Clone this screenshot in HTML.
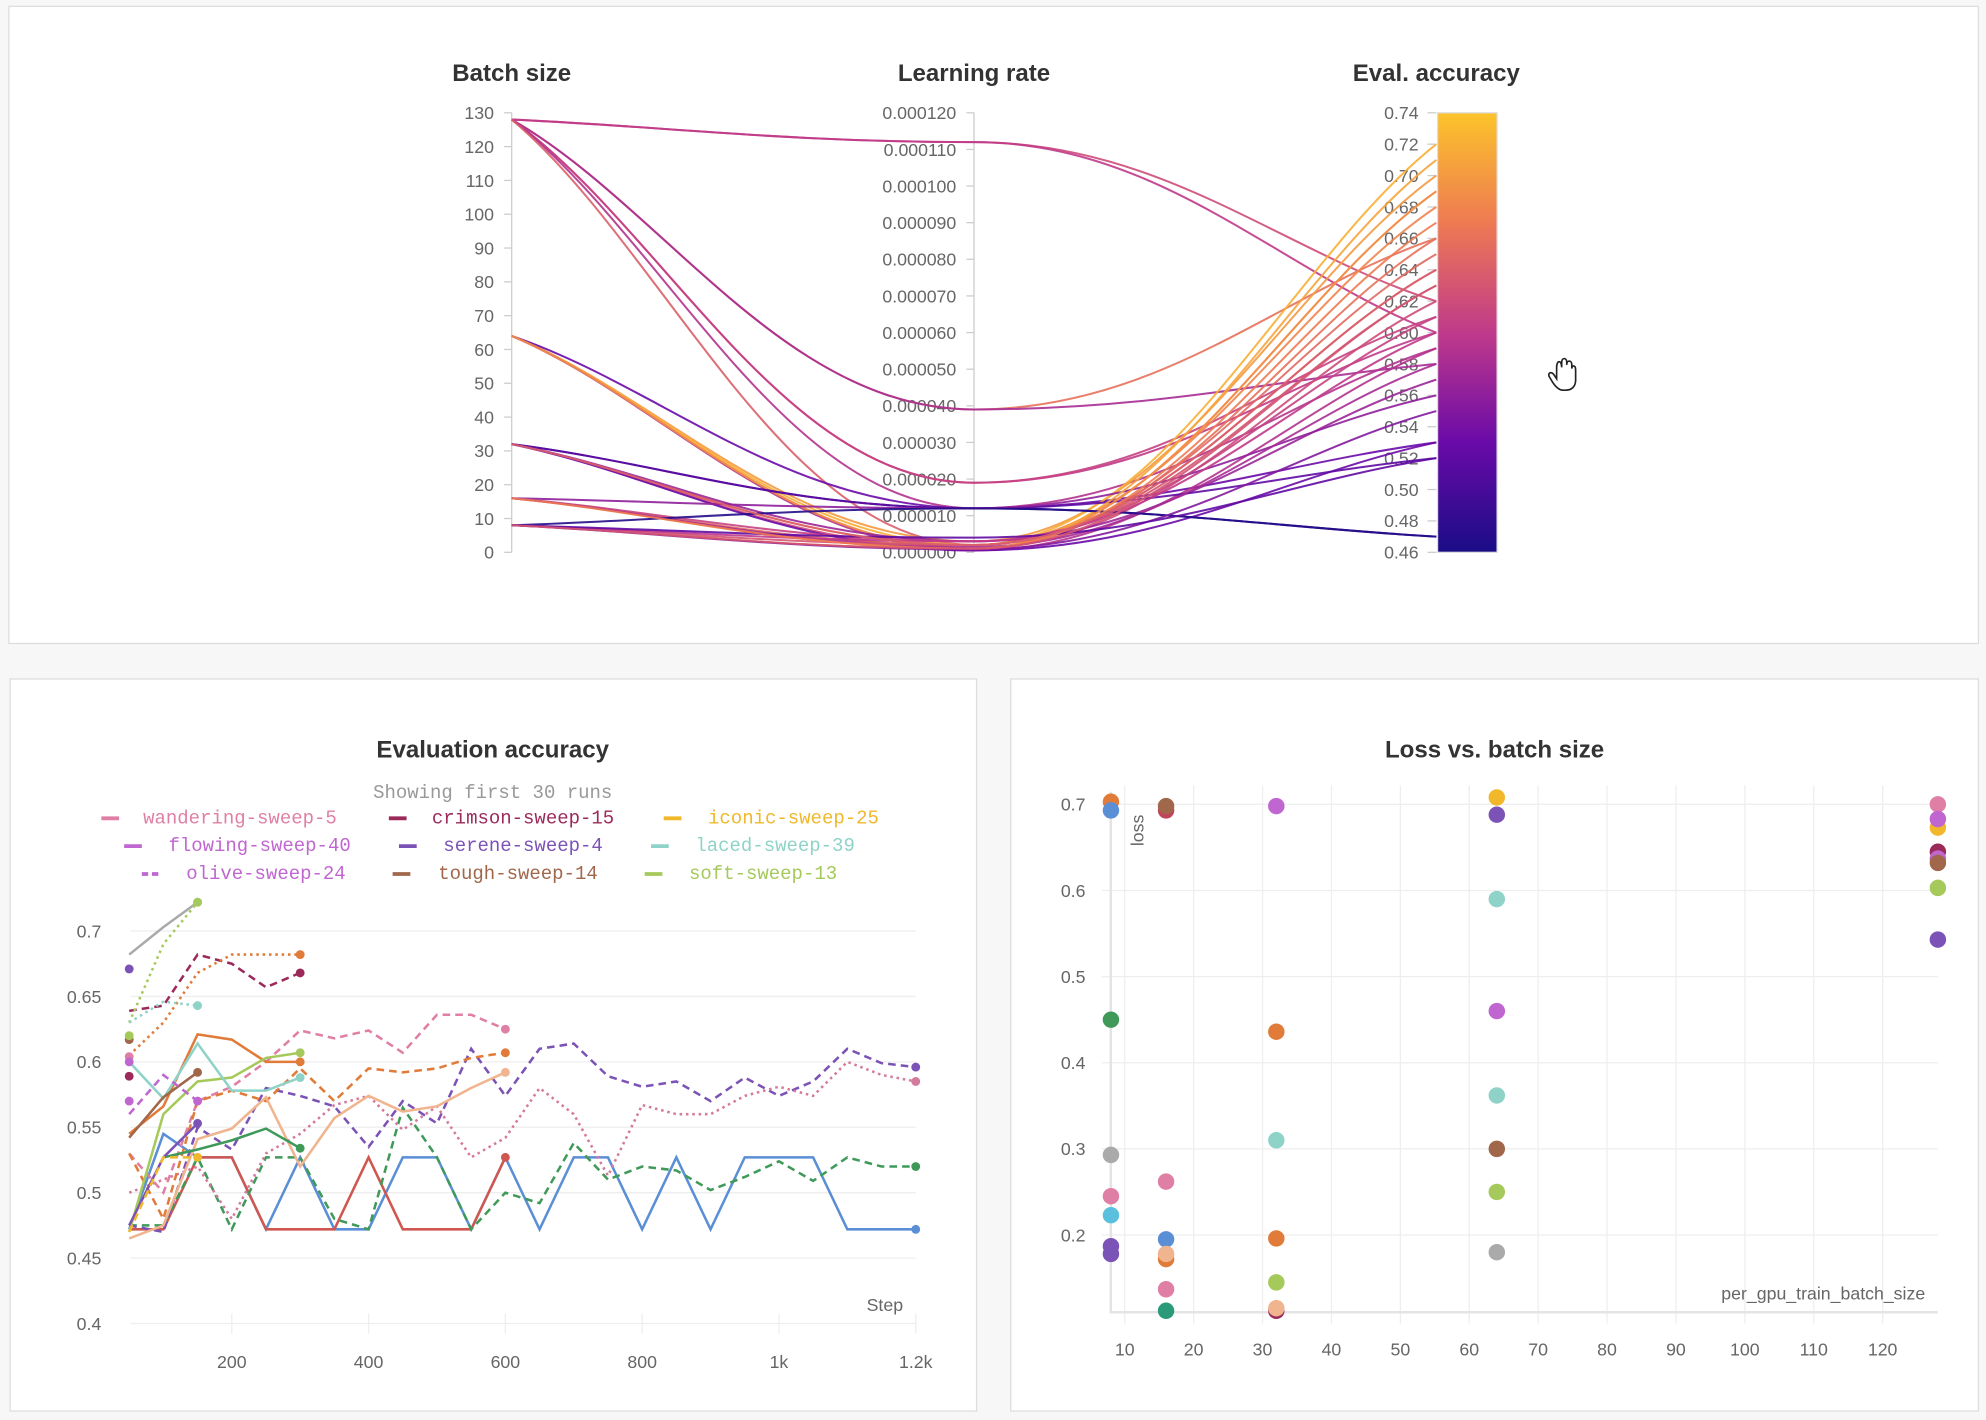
<!DOCTYPE html>
<html><head><meta charset="utf-8"><style>
html,body{margin:0;padding:0;background:#f7f7f7;width:1986px;height:1420px;overflow:hidden}
svg{display:block}
text{font-family:"Liberation Sans",sans-serif}
.t{font-size:19px;font-weight:bold;fill:#333}
.tk{font-size:14px;fill:#666}
.lg{font-family:"Liberation Mono",monospace;font-size:15px}
</style></head><body>
<svg id="s" width="1986" height="1420" viewBox="0 0 1568 1121" xmlns="http://www.w3.org/2000/svg">
<defs><linearGradient id="pl" x1="0" y1="1" x2="0" y2="0">
<stop offset="0" stop-color="#1a0c86"/><stop offset="0.25" stop-color="#6a0aa8"/><stop offset="0.5" stop-color="#c03a8a"/><stop offset="0.75" stop-color="#ee7a52"/><stop offset="1" stop-color="#fcc42a"/></linearGradient></defs>
<rect x="7" y="5" width="1555" height="503" fill="#fff" stroke="#ddd"/>
<rect x="8" y="536" width="763" height="578" fill="#fff" stroke="#ddd"/>
<rect x="798" y="536" width="764" height="578" fill="#fff" stroke="#ddd"/>
<g id="pc"></g>
<text class="t" x="404" y="64" text-anchor="middle">Batch size</text>
<text class="t" x="769" y="64" text-anchor="middle">Learning rate</text>
<text class="t" x="1134" y="64" text-anchor="middle">Eval. accuracy</text>
<rect x="1135" y="89" width="47" height="347" fill="url(#pl)" stroke="#ddd"/>
<text class="t" x="389" y="598" text-anchor="middle">Evaluation accuracy</text>
<text class="lg" x="389" y="630" text-anchor="middle" fill="#999">Showing first 30 runs</text>
<g id="lg"></g>
<g id="ev"></g>
<text class="t" x="1180" y="598" text-anchor="middle">Loss vs. batch size</text>
<g id="sc"></g>
<path d="M1229 290c0-6 4-6 4 0v-4c0-4 4-4 4 0v2c0-4 4-4 4 0v3c0-3 3-3 3 1v8c0 5-3 8-8 8h-2c-3 0-6-3-8-6l-3-5c-1-3 2-4 4-1l2 3z" fill="#fff" stroke="#222" stroke-width="1.3"/>
</svg>
<script>
const NS="http://www.w3.org/2000/svg";
function el(p,t,a,txt){const e=document.createElementNS(NS,t);for(const k in a)e.setAttribute(k,a[k]);if(txt!==undefined)e.textContent=txt;document.getElementById(p).appendChild(e);return e;}
// parallel coords
const yb=v=>436-v/130*347, yl=v=>436-v/0.00012*347, ya=v=>436-(v-0.46)/0.28*347;
for(let i=0;i<=13;i++){const y=yb(i*10);el('pc','line',{x1:398,x2:404,y1:y,y2:y,stroke:'#ccc'});el('pc','text',{x:390,y:y+5,'text-anchor':'end',class:'tk'},i*10);}
for(let i=0;i<=12;i++){const y=yl(i*0.00001);el('pc','line',{x1:763,x2:769,y1:y,y2:y,stroke:'#ccc'});el('pc','text',{x:755,y:y+5,'text-anchor':'end',class:'tk'},(i*0.00001).toFixed(6));}
for(let i=0;i<=14;i++){const v=0.46+i*0.02,y=ya(v);el('pc','line',{x1:1127,x2:1134,y1:y,y2:y,stroke:'#ccc'});el('pc','text',{x:1120,y:y+5,'text-anchor':'end',class:'tk'},v.toFixed(2));}
el('pc','line',{x1:404,x2:404,y1:89,y2:436,stroke:'#ccc'});
el('pc','line',{x1:769,x2:769,y1:89,y2:436,stroke:'#ccc'});
const stops=[[0,[26,12,134]],[0.25,[106,10,168]],[0.5,[192,58,138]],[0.75,[238,122,82]],[1,[252,196,42]]];
function cm(t){t=Math.max(0,Math.min(1,t));for(let i=1;i<stops.length;i++){if(t<=stops[i][0]){const a=stops[i-1],b=stops[i],f=(t-a[0])/(b[0]-a[0]);return 'rgb('+a[1].map((c,j)=>Math.round(c+(b[1][j]-c)*f)).join(',')+')';}}}
const L=[[128,0.000112,0.62],[128,0.000112,0.60],[128,0.000039,0.66],[128,0.000039,0.58],[128,0.000019,0.60],[128,0.000019,0.61],[128,0.000012,0.59],[128,0.000002,0.64],[64,0.000003,0.70],[64,0.000012,0.53],[64,0.000002,0.72],[64,0.000001,0.66],[64,0.0000005,0.59],[64,0.000001,0.69],[32,0.000012,0.47],[32,0.000002,0.68],[32,0.000001,0.62],[32,0.000003,0.57],[32,0.0000005,0.53],[32,0.000012,0.52],[16,0.000012,0.56],[16,0.000001,0.71],[16,0.000002,0.65],[16,0.000003,0.61],[16,0.0000015,0.58],[8,0.000012,0.47],[8,0.000001,0.69],[8,0.000002,0.63],[8,0.000003,0.60],[8,0.0000008,0.55],[8,0.000004,0.52],[16,0.000001,0.67],[32,0.000002,0.64],[8,0.000001,0.63]];
for(const [b,l,a] of L){const x0=404,x1=769,x2=1134,y0=yb(b),y1=yl(l),y2=ya(a);
el('pc','path',{d:`M${x0} ${y0}C${x0+120} ${y0+(y1-y0)*0.3} ${x1-150} ${y1} ${x1} ${y1}C${x1+150} ${y1} ${x2-120} ${y2+(y1-y2)*0.3} ${x2} ${y2}`,fill:'none',stroke:cm((a-0.46)/0.28),'stroke-width':1.6,opacity:0.9});}
// legend
const lgd=[["wandering-sweep-5","#e07fa5",0],["crimson-sweep-15","#9b2a5a",0],["iconic-sweep-25","#f0b82a",0],["flowing-sweep-40","#c066d0",0],["serene-sweep-4","#7b52b5",0],["laced-sweep-39","#8fd3c8",0],["olive-sweep-24","#c066d0",1],["tough-sweep-14","#a0674b",0],["soft-sweep-13","#a5c95a",0]];
const lx=[[80,113],[307,341],[524,559],[98,133],[315,350],[514,549],[112,147],[310,346],[509,544]];
lgd.forEach((g,i)=>{const y=650+Math.floor(i/3)*22,[a,b]=lx[i];el('lg','line',{x1:a,x2:a+14,y1:y-4,y2:y-4,stroke:g[1],'stroke-width':3,'stroke-dasharray':g[2]?'5 3':'none'});el('lg','text',{x:b,y:y,class:'lg',fill:g[1]},g[0]);});
// eval chart
const ex=s=>183+(s-200)*0.54, ey=v=>735+(0.7-v)*1033;
[0.4,0.45,0.5,0.55,0.6,0.65,0.7].forEach(v=>{el('ev','line',{x1:103,x2:723,y1:ey(v),y2:ey(v),stroke:'#eee'});el('ev','text',{x:80,y:ey(v)+5,'text-anchor':'end',class:'tk',fill:'#888'},v);});
[[200,'200'],[400,'400'],[600,'600'],[800,'800'],[1000,'1k'],[1200,'1.2k']].forEach(([s,t])=>{el('ev','line',{x1:ex(s),x2:ex(s),y1:1037,y2:1053,stroke:'#eee'});el('ev','text',{x:ex(s),y:1080,'text-anchor':'middle',class:'tk',fill:'#888'},t);});
el('ev','text',{x:713,y:1035,'text-anchor':'end',class:'tk',fill:'#888'},'Step');
function ser(c,d,pts,start){const a=start||50;const p=pts.map((v,i)=>[ex(a+i*50),ey(v)]).filter((q,i)=>pts[i]!==null);
el('ev','polyline',{points:p.map(q=>q.join(',')).join(' '),fill:'none',stroke:c,'stroke-width':2,'stroke-dasharray':d||'none'});const e=p[p.length-1];el('ev','circle',{cx:e[0],cy:e[1],r:3.5,fill:c});}
ser('#5a8fd6','',[0.472,0.545,0.527,0.527,0.472,0.527,0.472,0.472,0.527,0.527,0.472,0.527,0.472,0.527,0.527,0.472,0.527,0.472,0.527,0.527,0.527,0.472,0.472,0.472]);
ser('#d0574f','',[0.472,0.472,0.527,0.527,0.472,0.472,0.472,0.527,0.472,0.472,0.472,0.527]);
ser('#3f9a5a','6 4',[0.475,0.475,0.527,0.472,0.527,0.527,0.48,0.472,0.565,0.527,0.472,0.5,0.492,0.538,0.51,0.52,0.517,0.502,0.512,0.524,0.509,0.527,0.52,0.52]);
ser('#7b52b5','6 4',[0.475,0.47,0.55,0.533,0.58,0.574,0.566,0.535,0.57,0.553,0.61,0.574,0.61,0.614,0.589,0.581,0.585,0.57,0.588,0.574,0.585,0.61,0.599,0.596]);
ser('#d47a9c','2 3',[0.5,0.51,0.52,0.48,0.53,0.545,0.567,0.574,0.548,0.566,0.527,0.542,0.58,0.56,0.513,0.567,0.56,0.56,0.574,0.581,0.574,0.6,0.59,0.585]);
ser('#e07fa5','6 4',[0.53,0.5,0.57,0.581,0.6,0.624,0.618,0.624,0.607,0.636,0.636,0.625]);
ser('#e07b39','6 4',[0.53,0.48,0.57,0.578,0.57,0.595,0.57,0.595,0.592,0.595,0.603,0.607]);
ser('#f0b48e','',[0.465,0.475,0.541,0.549,0.573,0.52,0.557,0.574,0.562,0.566,0.58,0.592]);
ser('#e07b39','',[0.545,0.566,0.621,0.617,0.6,0.6]);
ser('#a5c95a','',[0.47,0.56,0.585,0.588,0.603,0.607]);
ser('#3f9a5a','',[0.527,0.533,0.54,0.549,0.534],100);
ser('#9b2a5a','6 4',[0.639,0.643,0.682,0.675,0.657,0.668]);
ser('#e07b39','2 3',[0.605,0.63,0.668,0.682,0.682,0.682]);
ser('#aaaaaa','',[0.682,0.703,0.722]);
ser('#a5c95a','2 3',[0.63,0.69,0.722]);
ser('#8fd3c8','2 3',[0.63,0.646,0.643]);
ser('#8fd3c8','',[0.6,0.572,0.614,0.578,0.578,0.588]);
ser('#a0674b','',[0.542,0.573,0.592]);
ser('#7b52b5','',[0.475,0.527,0.553]);
ser('#c066d0','6 4',[0.56,0.59,0.57]);
ser('#f0b82a','6 4',[0.47,0.527,0.527]);
[[0.671,'#7b52b5'],[0.617,'#a0674b'],[0.62,'#a5c95a'],[0.604,'#e07fa5'],[0.6,'#c066d0'],[0.589,'#9b2a5a'],[0.57,'#c066d0']].forEach(([v,c])=>el('ev','circle',{cx:ex(50),cy:ey(v),r:3.5,fill:c}));
// scatter
const sx=v=>888+(v-10)*5.44, sy=v=>635+(0.7-v)*680;
for(let v=10;v<=120;v+=10){el('sc','line',{x1:sx(v),x2:sx(v),y1:620,y2:1045,stroke:'#eee'});el('sc','text',{x:sx(v),y:1070,'text-anchor':'middle',class:'tk',fill:'#888'},v);}
[0.2,0.3,0.4,0.5,0.6,0.7].forEach(v=>{el('sc','line',{x1:870,x2:1530,y1:sy(v),y2:sy(v),stroke:'#eee'});el('sc','text',{x:857,y:sy(v)+5,'text-anchor':'end',class:'tk',fill:'#888'},v);});
el('sc','line',{x1:877,x2:877,y1:625,y2:1037,stroke:'#e4e4e4','stroke-width':2});
el('sc','line',{x1:877,x2:1530,y1:1036,y2:1036,stroke:'#e4e4e4','stroke-width':2});
el('sc','text',{x:1520,y:1026,'text-anchor':'end',class:'tk',fill:'#888'},'per_gpu_train_batch_size');
el('sc','text',{x:0,y:0,class:'tk',fill:'#888',transform:'translate(903,668) rotate(-90)'},'loss');
const P=[[8,0.703,'#e07b39'],[8,0.693,'#5a8fd6'],[8,0.45,'#3f9a5a'],[8,0.293,'#aaa'],[8,0.245,'#e07fa5'],[8,0.223,'#5bc0de'],[8,0.187,'#7b52b5'],[8,0.178,'#7b52b5'],
[16,0.693,'#c0445a'],[16,0.698,'#a0674b'],[16,0.262,'#e07fa5'],[16,0.195,'#5a8fd6'],[16,0.172,'#e07b39'],[16,0.178,'#f0b48e'],[16,0.137,'#e07fa5'],[16,0.112,'#2a9a7a'],
[32,0.698,'#c066d0'],[32,0.436,'#e07b39'],[32,0.31,'#8fd3c8'],[32,0.196,'#e07b39'],[32,0.145,'#a5c95a'],[32,0.112,'#9b2a5a'],[32,0.115,'#f0b48e'],
[64,0.708,'#f0b82a'],[64,0.688,'#7b52b5'],[64,0.59,'#8fd3c8'],[64,0.46,'#c066d0'],[64,0.362,'#8fd3c8'],[64,0.3,'#a0674b'],[64,0.25,'#a5c95a'],[64,0.18,'#aaa'],
[128,0.673,'#f0b82a'],[128,0.7,'#e07fa5'],[128,0.683,'#c066d0'],[128,0.645,'#9b2a5a'],[128,0.637,'#c066d0'],[128,0.632,'#a0674b'],[128,0.603,'#a5c95a'],[128,0.543,'#7b52b5']];
P.forEach(([x,v,c])=>el('sc','circle',{cx:x==128?1530:sx(x),cy:sy(v),r:6.5,fill:c}));
</script>
</body></html>
